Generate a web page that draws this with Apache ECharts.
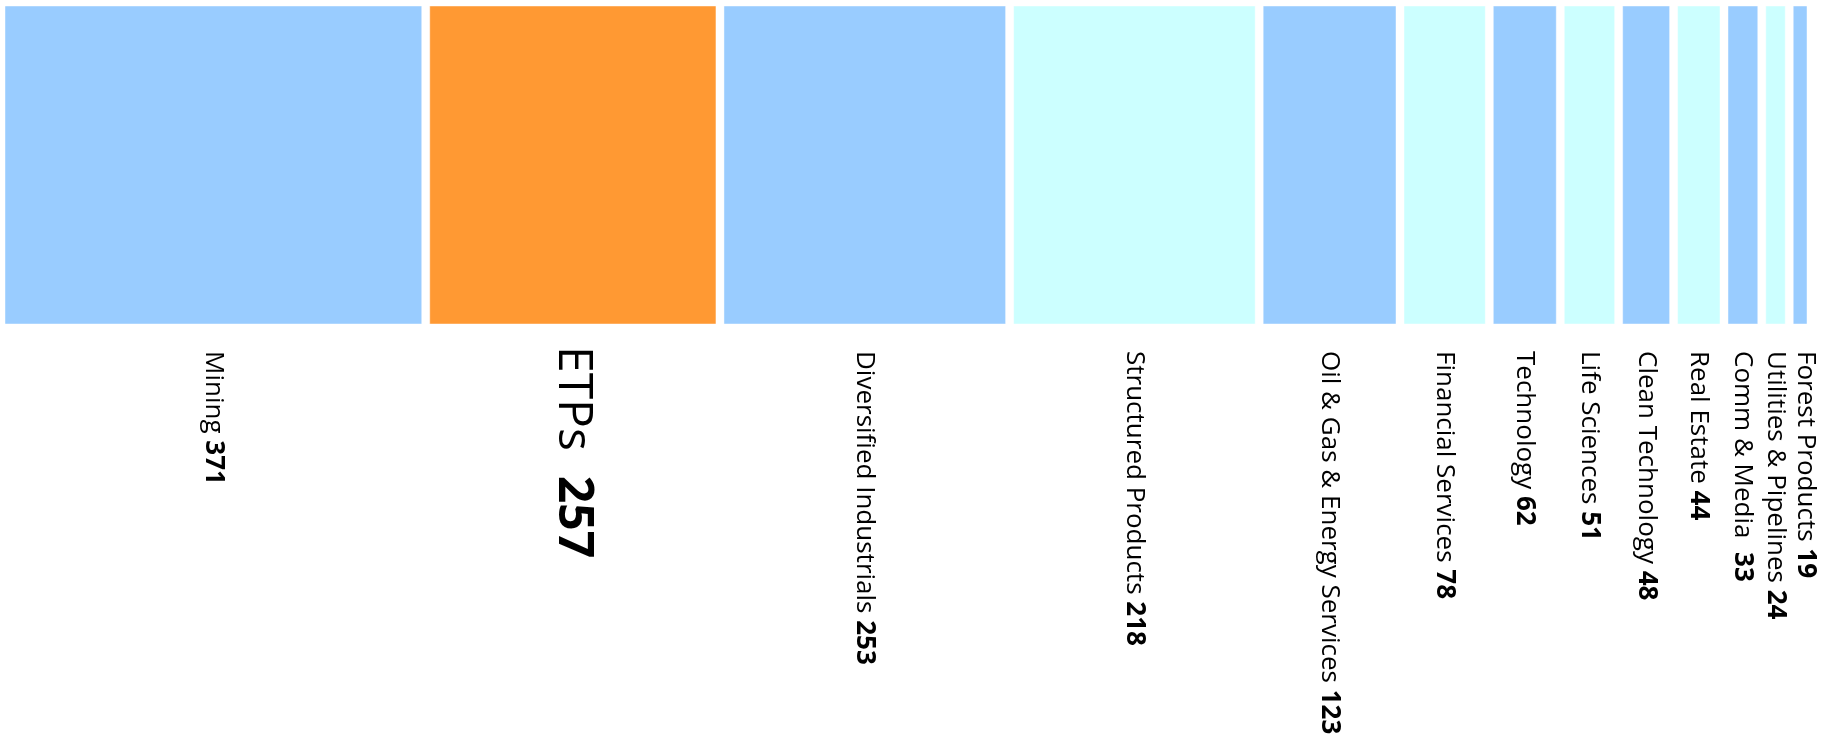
<!DOCTYPE html>
<html>
<head>
<meta charset="utf-8">
<script src="https://cdn.jsdelivr.net/npm/echarts@6/dist/echarts.min.js"></script>
<style>
html,body{margin:0;padding:0;background:#fff;}
#chart{width:1829px;height:734px;}
</style>
</head>
<body>
<div id="chart"></div>
<script>
const categories = ['Mining','ETPs','Diversified Industrials','Structured Products','Oil & Gas & Energy Services','Financial Services','Technology','Life Sciences','Clean Technology','Real Estate','Comm & Media','Utilities & Pipelines','Forest Products'];
const values = [371,257,253,218,123,78,62,51,48,44,33,24,19];
const highlighted = 'ETPs';

const colorEven = '#99CCFF';
const colorOdd = '#CCFFFF';
const colorHighlight = '#FF9933';
const FONT = '"Open Sans", "Noto Sans", sans-serif';

let acc = 0;
const seriesData = values.map((v, i) => {
  const start = acc;
  acc += v;
  return [start, acc, v, i];
});
const total = acc;

const chart = echarts.init(document.getElementById('chart'));

function labelPositions(api) {
  const xs = seriesData.map(d => (api.coord([d[0], 0])[0] + api.coord([d[1], 0])[0]) / 2);
  const minGap = 30;
  for (let i = 1; i < xs.length; i++) {
    if (xs[i] - xs[i - 1] < minGap) xs[i] = xs[i - 1] + minGap;
  }
  return xs;
}

chart.setOption({
  animation: false,
  grid: { left: 1, right: 18, top: 6, height: 318 },
  xAxis: { type: 'value', min: 0, max: total, show: false },
  yAxis: { type: 'value', min: 0, max: 1, show: false },
  series: [{
    type: 'custom',
    data: seriesData,
    renderItem: function (params, api) {
      const start = api.value(0), end = api.value(1), idx = api.value(3);
      const p0 = api.coord([start, 1]);
      const p1 = api.coord([end, 0]);
      const inset = 4;
      const name = categories[idx];
      const val = values[idx];
      const isHi = name === highlighted;
      const fill = isHi ? colorHighlight : (idx % 2 === 0 ? colorEven : colorOdd);
      const lx = labelPositions(api)[idx];
      const sep = (isHi || name === 'Comm & Media') ? '\u00a0 ' : ' ';
      const text = '{n|' + name + sep + '}{v|' + val + '}';
      const fs = isHi ? 48 : 26;
      return {
        type: 'group',
        children: [{
          type: 'rect',
          shape: { x: p0[0] + inset, y: p0[1], width: p1[0] - p0[0] - inset * 2, height: p1[1] - p0[1] },
          style: { fill: fill, stroke: 'rgba(255,255,255,0.45)', lineWidth: 1 }
        }, {
          type: 'text',
          x: lx,
          y: isHi ? 346 : 351,
          rotation: -Math.PI / 2,
          style: {
            text: text,
            align: 'left',
            verticalAlign: 'middle',
            fill: '#000',
            rich: {
              n: { fontSize: fs, fontFamily: FONT, fill: '#000' },
              v: { fontSize: fs, fontFamily: FONT, fontWeight: 'bold', fill: '#000' }
            }
          }
        }]
      };
    }
  }]
});
</script>
</body>
</html>
